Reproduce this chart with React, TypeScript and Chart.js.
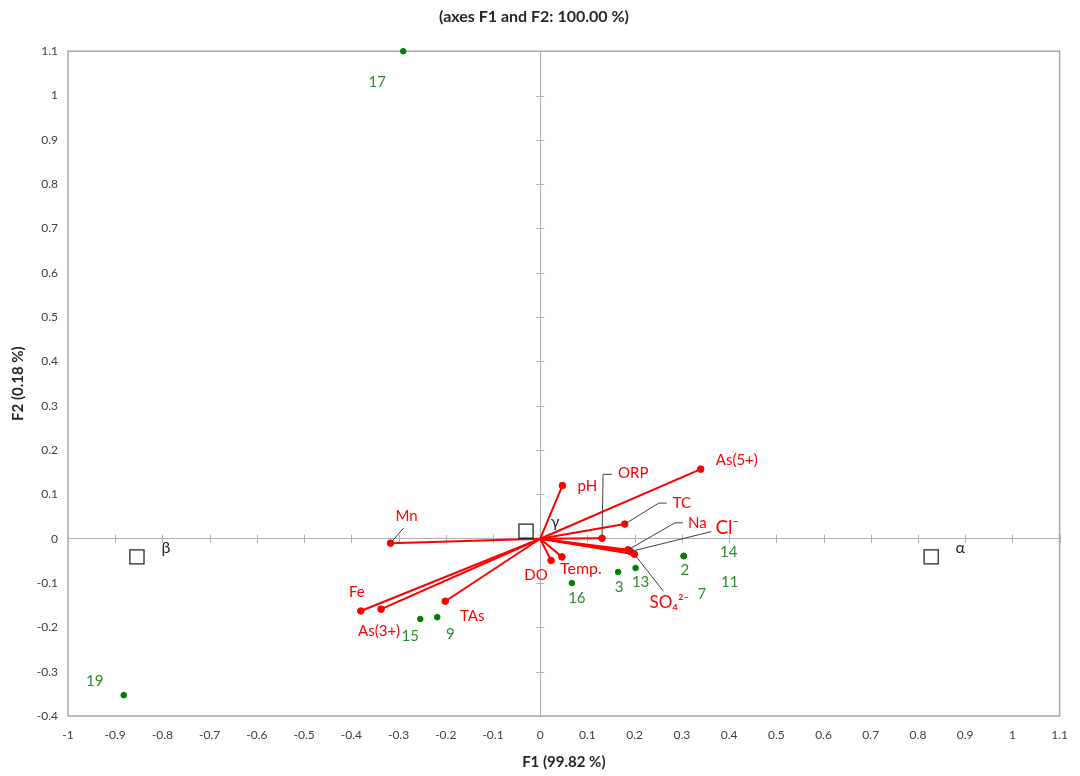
import React, { useEffect, useRef } from "react";
import { Chart, registerables } from "chart.js";

Chart.register(...registerables);

// ---------- DATA ----------
const TITLE = "(axes F1 and F2: 100.00 %)";
const X_TITLE = "F1 (99.82 %)";
const Y_TITLE = "F2 (0.18 %)";

const X_MIN = -1;
const X_MAX = 1.1;
const Y_MIN = -0.4;
const Y_MAX = 1.1;
const TICK_STEP = 0.1;

// Observations (green points)
const OBS_LABELS = ["17", "19", "15", "9", "16", "3", "13", "2", "14", "11", "7"];
const OBS_F1 = [-0.29, -0.882, -0.254, -0.218, 0.067, 0.165, 0.202, 0.304, 0.304, 0.304, 0.304];
const OBS_F2 = [1.1, -0.353, -0.181, -0.177, -0.1, -0.075, -0.066, -0.039, -0.039, -0.039, -0.039];

// Variables (red vectors)
const VAR_LABELS = ["As(5+)", "pH", "ORP", "TC", "Na", "Cl⁻", "SO₄²⁻", "Temp.", "DO", "Mn", "Fe", "As(3+)", "TAs"];
const VAR_F1 = [0.34, 0.047, 0.131, 0.179, 0.186, 0.191, 0.1995, 0.046, 0.023, -0.317, -0.38, -0.337, -0.201];
const VAR_F2 = [0.157, 0.12, 0.001, 0.033, -0.025, -0.029, -0.035, -0.041, -0.049, -0.01, -0.163, -0.159, -0.141];

// Group centroids (hollow squares)
const GRP_LABELS = ["γ", "β", "α"];
const GRP_F1 = [-0.03, -0.854, 0.828];
const GRP_F2 = [0.017, -0.041, -0.041];

// ---------- STYLE (label placement, pixel offsets from the mark) ----------
const FONT = "Lato, 'Liberation Sans', sans-serif";
const OBS_LABEL_OFFSETS: [number, number][] = [
  [-26, 31], [-29, -14], [-10, 17], [13, 17], [5, 15], [1, 15], [5, 14], [1, 14], [45, -4], [46, 26], [18, 38],
];
// [dx, dy, fontSize, align]
const VAR_LABEL_STYLE: [number, number, number, CanvasTextAlign][] = [
  [15, -9, 15, "left"],
  [25, 1, 15, "center"],
  [16, -65, 15, "left"],
  [48, -21, 15, "left"],
  [60, -27, 15, "left"],
  [85, -24, 19, "left"],
  [15, 48, 17, "left"],
  [19, 12, 16, "center"],
  [-15, 15, 15, "center"],
  [16, -27, 15, "center"],
  [-4, -19, 15, "center"],
  [-2, 22, 15, "center"],
  [27, 15, 15, "center"],
];
// leader lines: list of [dx, dy] pixel vertices from the mark, or null
const VAR_LEADERS: ([number, number][] | null)[] = [
  null,
  null,
  [[1, -64], [10, -64]],
  [[34, -21], [42, -21]],
  [[47, -27], [55, -27]],
  [[81, -20]],
  [[29, 37]],
  null,
  null,
  [[13, -15]],
  null,
  null,
  null,
];
const GRP_LABEL_OFFSET: [number, number] = [29, -9];

const RED = "#ff0000";
const GREEN_PT = "#008000";
const GREEN_TXT = "#2e8b2e";

const biplotPlugin = {
  id: "biplot",
  beforeDatasetsDraw(chart: any) {
    const { ctx, chartArea, scales } = chart;
    const { left, right, top, bottom } = chartArea;
    const x = scales.x;
    const y = scales.y;
    ctx.save();
    ctx.strokeStyle = "#a6a6a6";
    ctx.lineWidth = 1.5;
    ctx.strokeRect(left, top, right - left, bottom - top);
    const x0 = x.getPixelForValue(0);
    const y0 = y.getPixelForValue(0);
    ctx.strokeStyle = "#b0b0b0";
    ctx.lineWidth = 1;
    ctx.beginPath();
    x.ticks.forEach((t: any) => {
      if (Math.abs(t.value) < 1e-9) return;
      const px = Math.round(x.getPixelForValue(t.value)) + 0.5;
      ctx.moveTo(px, y0 - 4);
      ctx.lineTo(px, y0 + 4);
    });
    y.ticks.forEach((t: any) => {
      if (Math.abs(t.value) < 1e-9) return;
      const py = Math.round(y.getPixelForValue(t.value)) + 0.5;
      ctx.moveTo(x0 - 4, py);
      ctx.lineTo(x0 + 4, py);
    });
    ctx.stroke();
    ctx.restore();
  },
  afterDatasetsDraw(chart: any) {
    const { ctx, scales } = chart;
    const x = scales.x;
    const y = scales.y;
    ctx.save();
    ctx.textBaseline = "middle";
    // leader lines
    ctx.strokeStyle = "#404040";
    ctx.lineWidth = 1;
    VAR_LABELS.forEach((_, i) => {
      const pts = VAR_LEADERS[i];
      if (!pts) return;
      const px = x.getPixelForValue(VAR_F1[i]);
      const py = y.getPixelForValue(VAR_F2[i]);
      ctx.beginPath();
      ctx.moveTo(px, py);
      pts.forEach(([dx, dy]) => ctx.lineTo(px + dx, py + dy));
      ctx.stroke();
    });
    // variable labels
    ctx.fillStyle = RED;
    VAR_LABELS.forEach((lab, i) => {
      const [dx, dy, size, align] = VAR_LABEL_STYLE[i];
      ctx.font = `${size}px ${FONT}`;
      ctx.textAlign = align;
      ctx.fillText(lab, x.getPixelForValue(VAR_F1[i]) + dx, y.getPixelForValue(VAR_F2[i]) + dy);
    });
    // observation labels
    ctx.fillStyle = GREEN_TXT;
    ctx.font = `15px ${FONT}`;
    ctx.textAlign = "center";
    OBS_LABELS.forEach((lab, i) => {
      const [dx, dy] = OBS_LABEL_OFFSETS[i];
      ctx.fillText(lab, x.getPixelForValue(OBS_F1[i]) + dx, y.getPixelForValue(OBS_F2[i]) + dy);
    });
    // group labels
    ctx.fillStyle = "#262626";
    ctx.font = `16px ${FONT}`;
    GRP_LABELS.forEach((lab, i) => {
      ctx.fillText(
        lab,
        x.getPixelForValue(GRP_F1[i]) + GRP_LABEL_OFFSET[0],
        y.getPixelForValue(GRP_F2[i]) + GRP_LABEL_OFFSET[1]
      );
    });
    ctx.restore();
  },
};

const fmt = (v: any) => String(Math.round(Number(v) * 10) / 10);

export default function App() {
  const ref = useRef<HTMLCanvasElement | null>(null);

  useEffect(() => {
    if (!ref.current) return;
    const vectorSets = VAR_LABELS.map((lab, i) => ({
      label: lab,
      data: [
        { x: 0, y: 0 },
        { x: VAR_F1[i], y: VAR_F2[i] },
      ],
      showLine: true,
      borderColor: RED,
      borderWidth: 2,
      pointRadius: [0, 3.3],
      pointBorderWidth: 1,
      pointBackgroundColor: RED,
      pointBorderColor: RED,
      order: 3,
    }));
    const chart = new Chart(ref.current, {
      type: "scatter",
      data: {
        datasets: [
          ...vectorSets,
          {
            label: "Observations",
            data: OBS_F1.map((v, i) => ({ x: v, y: OBS_F2[i] })),
            pointRadius: 2.8,
            pointBorderWidth: 1,
            pointBackgroundColor: GREEN_PT,
            pointBorderColor: GREEN_PT,
            clip: false,
            order: 2,
          } as any,
          {
            label: "Groups",
            data: GRP_F1.map((v, i) => ({ x: v, y: GRP_F2[i] })),
            pointStyle: "rect",
            pointRadius: 10,
            pointBackgroundColor: "#ffffff",
            pointBorderColor: "#262626",
            pointBorderWidth: 1.3,
            order: 1,
          } as any,
        ],
      },
      options: {
        animation: false,
        responsive: true,
        maintainAspectRatio: false,
        events: [],
        layout: { padding: { left: 0, right: 12, top: 0, bottom: 5 } },
        plugins: {
          legend: { display: false },
          tooltip: { enabled: false },
          title: {
            display: true,
            text: TITLE,
            color: "#262626",
            font: { family: FONT, size: 16, weight: "bold" },
            padding: { top: 7, bottom: 25 },
          },
        },
        scales: {
          x: {
            type: "linear",
            min: X_MIN,
            max: X_MAX,
            afterFit: (s: any) => {
              s.height = 55;
            },
            ticks: {
              stepSize: TICK_STEP,
              padding: 12,
              color: "#404040",
              font: { family: FONT, size: 12 },
              callback: fmt,
              maxRotation: 0,
              autoSkip: false,
            },
            grid: {
              drawTicks: false,
              color: (c: any) => (c.tick && Math.abs(c.tick.value) < 1e-9 ? "#b0b0b0" : "rgba(0,0,0,0)"),
              lineWidth: 1,
            },
            border: { display: false },
            title: {
              display: true,
              text: X_TITLE,
              color: "#262626",
              font: { family: FONT, size: 15, weight: "bold" },
              padding: { top: 0, bottom: 0 },
            },
          },
          y: {
            type: "linear",
            min: Y_MIN,
            max: Y_MAX,
            afterFit: (s: any) => {
              s.width = 68;
            },
            ticks: {
              stepSize: TICK_STEP,
              padding: 10,
              color: "#404040",
              font: { family: FONT, size: 12 },
              callback: fmt,
              autoSkip: false,
            },
            grid: {
              drawTicks: false,
              color: (c: any) => (c.tick && Math.abs(c.tick.value) < 1e-9 ? "#b0b0b0" : "rgba(0,0,0,0)"),
              lineWidth: 1,
            },
            border: { display: false },
            title: {
              display: true,
              text: Y_TITLE,
              color: "#262626",
              font: { family: FONT, size: 15, weight: "bold" },
              padding: { top: 9, bottom: 0 },
            },
          },
        },
      },
      plugins: [biplotPlugin],
    } as any);
    return () => chart.destroy();
  }, []);

  return (
    <div style={{ position: "absolute", left: 0, top: 0, width: 1080, height: 776, background: "#fff" }}>
      <canvas ref={ref} />
    </div>
  );
}
